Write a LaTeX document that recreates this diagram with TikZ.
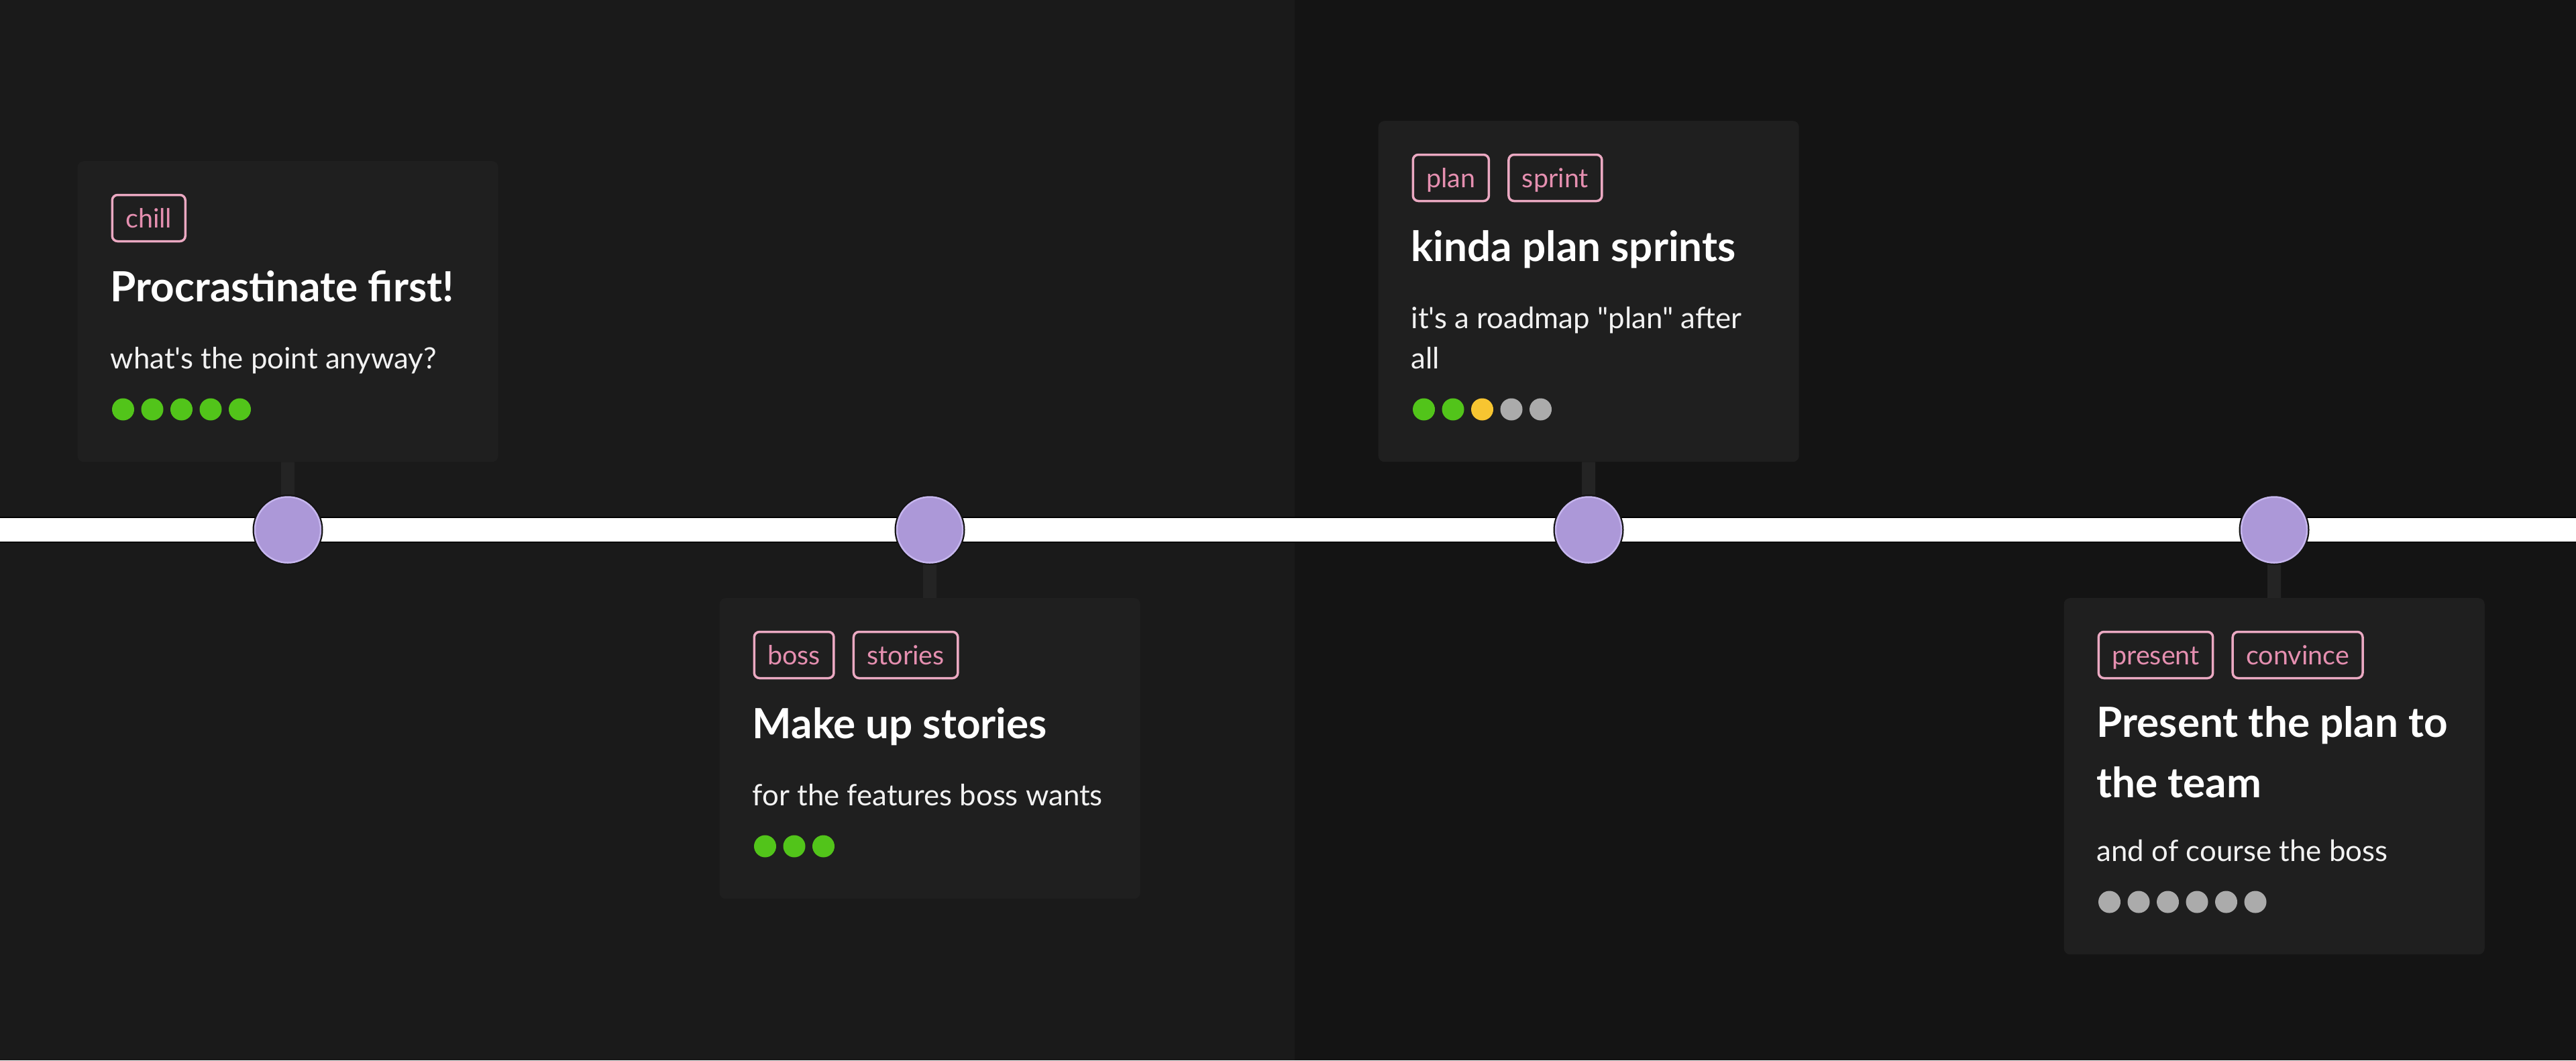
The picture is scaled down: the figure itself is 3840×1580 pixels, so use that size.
\documentclass[tikz,border=0pt]{standalone}
\usepackage{fontspec}
\newfontfamily\lato{Lato}
\definecolor{bgL}{HTML}{1A1A1A}
\definecolor{bgR}{HTML}{141414}
\definecolor{cardc}{HTML}{1F1F1F}
\definecolor{stemc}{HTML}{242424}
\definecolor{lav}{HTML}{AC98D8}
\definecolor{lavl}{HTML}{C6B6EE}
\definecolor{pinkt}{HTML}{E58FB0}
\definecolor{pinkb}{HTML}{EBA9C2}
\definecolor{grn}{HTML}{52C41A}
\definecolor{yel}{HTML}{F7C531}
\definecolor{gry}{HTML}{ABABAB}
\definecolor{txt}{HTML}{F2F2F2}
\pgfdeclarelayer{back}
\pgfdeclarelayer{mid}
\pgfsetlayers{back,mid,main}
\begin{document}
\begin{tikzpicture}[x=1pt,y=-1pt,
  card/.style={fill=cardc, rounded corners=9pt, minimum width=627pt, anchor=north west, inner sep=0pt},
  mile/.style={circle, fill=lav, draw=lavl, line width=2.5pt, minimum size=98pt, inner sep=0pt,
     preaction={draw=black!92, line width=7pt}},
  stemline/.style={draw=stemc, line width=20pt},
  timeline/.style={draw=white, line width=35pt, preaction={draw=black, line width=39pt}},
  tag/.style={draw=pinkb, line width=3.5pt, rounded corners=8pt, text=pinkt,
     font=\lato\fontsize{39.5}{39.5}\selectfont, inner xsep=20pt, inner ysep=0pt,
     minimum height=69pt, text height=29pt, text depth=0pt, anchor=west},
  ttl/.style={text=white, font=\lato\bfseries\fontsize{62}{74}\selectfont, inner sep=0pt, anchor=base west},
  bodytxt/.style={text=txt, font=\lato\fontsize{43.8}{52}\selectfont, inner sep=0pt, anchor=base west},
  dot/.style={circle, minimum size=33pt, inner sep=0pt}
]
\useasboundingbox (0,0) rectangle (3840,1580);
\begin{pgfonlayer}{back}
  \fill[bgL] (0,0) rectangle (1930,1580);
  \fill[bgR] (1930,0) rectangle (3840,1580);
\end{pgfonlayer}
\coordinate (tlL) at (-30,789.5);
\coordinate (tlR) at (3870,789.5);
\begin{pgfonlayer}{back}
  \draw[timeline] (tlL) -- (tlR);
\end{pgfonlayer}

% milestones
\node[mile] (m1) at (429,789.5) {};
\node[mile] (m2) at (1386,789.5) {};
\node[mile] (m3) at (2368,789.5) {};
\node[mile] (m4) at (3390,789.5) {};

% cards
\node[card, minimum height=448pt] (k1) at (115.5,240) {};
\node[card, minimum height=448pt] (k2) at (1072.5,891) {};
\node[card, minimum height=508pt] (k3) at (2054.5,180) {};
\node[card, minimum height=531pt] (k4) at (3076.5,891) {};

\begin{pgfonlayer}{mid}
  \draw[stemline] (k1.south) -- (m1.north);
  \draw[stemline] (m2.south) -- (k2.north);
  \draw[stemline] (k3.south) -- (m3.north);
  \draw[stemline] (m4.south) -- (k4.north);
\end{pgfonlayer}

% card 1
\node[tag] (g1a) at (165.5,325) {chill};
\node[ttl] (h1) at (164.5,449) {Procrastinate first!};
\node[bodytxt] (b1) at (164.5,549) {what's the point anyway?};
\foreach \i/\c in {0/grn,1/grn,2/grn,3/grn,4/grn}
  \node[dot, fill=\c] (d1\i) at ({183.5+43.5*\i},610) {};

% card 2
\node[tag] (g2a) at (1122.5,976) {boss};
\node[tag] (g2b) at ([xshift=26pt]g2a.east) {stories};
\node[ttl] (h2) at (1121.5,1100) {Make up stories};
\node[bodytxt] (b2) at (1121.5,1200) {for the features boss wants};
\foreach \i/\c in {0/grn,1/grn,2/grn}
  \node[dot, fill=\c] (d2\i) at ({1140.5+43.5*\i},1261) {};

% card 3
\node[tag] (g3a) at (2104.5,265) {plan};
\node[tag] (g3b) at ([xshift=26pt]g3a.east) {sprint};
\node[ttl] (h3) at (2103.5,389) {kinda plan sprints};
\node[bodytxt] (b3a) at (2103.5,489) {it's a roadmap "plan" after};
\node[bodytxt] (b3b) at (2103.5,549) {all};
\foreach \i/\c in {0/grn,1/grn,2/yel,3/gry,4/gry}
  \node[dot, fill=\c] (d3\i) at ({2122.5+43.5*\i},610) {};

% card 4
\node[tag] (g4a) at (3126.5,976) {present};
\node[tag] (g4b) at ([xshift=26pt]g4a.east) {convince};
\node[ttl] (h4a) at (3125.5,1098) {Present the plan to};
\node[ttl] (h4b) at (3125.5,1188) {the team};
\node[bodytxt] (b4) at (3125.5,1283) {and of course the boss};
\foreach \i/\c in {0/gry,1/gry,2/gry,3/gry,4/gry,5/gry}
  \node[dot, fill=\c] (d4\i) at ({3144.5+43.5*\i},1344) {};
\end{tikzpicture}
\end{document}
